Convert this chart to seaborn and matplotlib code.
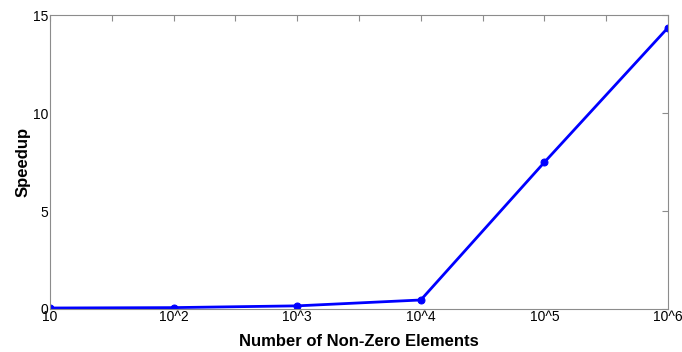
import numpy as np
import pandas as pd
import matplotlib
matplotlib.use("Agg")
import matplotlib.pyplot as plt
import seaborn as sns

# data
exponents = [1, 2, 3, 4, 5, 6]
tick_labels = ["10", "10^2", "10^3", "10^4", "10^5", "10^6"]
speedup = [0.05, 0.07, 0.16, 0.46, 7.5, 14.38]

sns.set_style("white")
plt.rcParams['font.family'] = ['Liberation Sans', 'DejaVu Sans']
plt.rcParams['text.color'] = 'black'
plt.rcParams['axes.labelcolor'] = 'black'

df = pd.DataFrame({"nnz": exponents, "Speedup": speedup})

fig = plt.figure(figsize=(6.82, 3.52), dpi=100)
ax = fig.add_axes([0.0733, 0.1222, 0.9062, 0.8338])
sns.lineplot(data=df, x="nnz", y="Speedup", ax=ax, color="#0000ff",
             linewidth=2, marker="o", markersize=5, markeredgecolor="#0000ff")

ax.set_xlim(1, 6)
ax.set_ylim(0, 15)
xt = np.arange(1, 6.01, 0.5)
ax.set_xticks(xt)
ax.set_xticklabels([tick_labels[int(t) - 1] if float(t).is_integer() else "" for t in xt])
ax.set_yticks([0, 5, 10, 15])
ax.tick_params(axis="both", direction="in", length=4, width=0.8, color="#8c8c8c",
               labelcolor="black", labelsize=10, top=True, right=True, pad=1)
for s in ax.spines.values():
    s.set_color("#8c8c8c")
    s.set_linewidth(0.8)
    s.set_visible(True)

ax.set_xlabel("Number of Non-Zero Elements", fontsize=12, fontweight="bold", labelpad=7)
ax.set_ylabel("Speedup", fontsize=12, fontweight="bold", labelpad=2)

fig.savefig("out.png", dpi=100)
